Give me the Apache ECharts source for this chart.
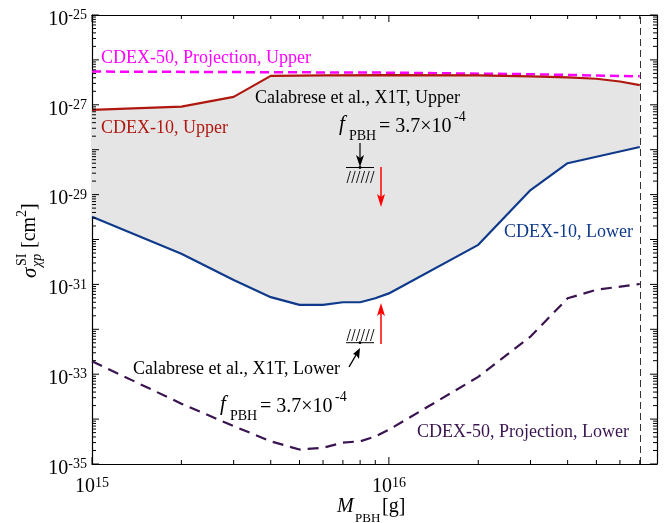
<!DOCTYPE html>
<html><head><meta charset="utf-8">
<script src="https://cdn.jsdelivr.net/npm/echarts@6/dist/echarts.min.js"></script>
<style>html,body{margin:0;padding:0;background:#fff}#c{width:667px;height:523px}</style>
</head><body><div id="c"></div>
<script>
// ---- data ----
const massUpper = [1e15, 2e15, 3e15, 4e15, 6e15, 1e16, 2e16, 3e16, 4e16, 5e16, 6e16, 7e16];
const cdex10Upper = [7.7e-28, 9.1e-28, 1.5e-27, 4.4e-27, 4.5e-27, 4.6e-27, 4.5e-27, 4.3e-27, 4.1e-27, 3.8e-27, 3.3e-27, 2.75e-27];

const massLower = [1e15, 2e15, 3e15, 4e15, 5e15, 6e15, 7e15, 8e15, 9e15, 1e16, 2e16, 3e16, 4e16, 7e16];
const cdex10Lower = [3.2e-30, 4.8e-31, 1.26e-31, 5.2e-32, 3.5e-32, 3.5e-32, 4e-32, 4e-32, 4.9e-32, 6.3e-32, 7.6e-31, 1.26e-29, 5e-29, 1.15e-28];

const massProjUpper = [1e15, 1e16, 3e16, 7e16];
const cdex50Upper = [5.5e-27, 5.2e-27, 4.8e-27, 4.3e-27];

const massProjLower = [1e15, 2e15, 3e15, 4e15, 5e15, 6e15, 7e15, 8e15, 9e15, 1e16, 2e16, 3e16, 4e16, 5e16, 7e16];
const cdex50Lower = [1.95e-33, 2.2e-34, 7e-35, 3.2e-35, 2.1e-35, 2.3e-35, 3e-35, 3.2e-35, 4.1e-35, 5.8e-35, 8.7e-34, 6.9e-33, 4.9e-32, 7.6e-32, 1.02e-31];

const massLimit = 7e16;           // vertical dashed line
const xRange = [1e15, 8e16];
const yExpRange = [-35, -25];     // y axis drawn on log10(sigma)
const xMajorTicks = [1e15, 1e16];

// ---- helpers ----
const FONT = 'Liberation Serif';
const lg = Math.log10;
const zipLog = (xs, ys) => xs.map((x, i) => [x, lg(ys[i])]);
const xTickData = [];
xMajorTicks.forEach(m => {
  xTickData.push([m, yExpRange[0], 1]);
  for (let k = 2; k <= 9; k++) { const v = k * m; if (v < xRange[1] * 0.999) xTickData.push([v, yExpRange[0], 0]); }
});
const yTickData = [];
for (let e = yExpRange[0]; e <= yExpRange[1]; e++) {
  yTickData.push([xRange[0], e, 1]);
  if (e < yExpRange[1]) for (let k = 2; k <= 9; k++) yTickData.push([xRange[0], e + lg(k), 0]);
}

const powRich = {
  b: { fontFamily: FONT, fontSize: 20, color: '#000', lineHeight: 22 },
  s: { fontFamily: FONT, fontSize: 14, color: '#000', lineHeight: 12, verticalAlign: 'top' }
};
function xLabel(v) {
  const e = lg(v), r = Math.round(e);
  if (!isFinite(e) || Math.abs(e - r) > 1e-6) return '';
  return '{b|10}{s|' + r + '}';
}
function yLabel(v) {
  const r = Math.round(v);
  if (Math.abs(v - r) > 1e-6 || r % 2 === 0) return '';
  return '{b|10}{s|' + r + '}';
}

const chart = echarts.init(document.getElementById('c'), null, { renderer: 'canvas' });
const axisLineStyle = { show: true, lineStyle: { color: '#000', width: 1.2 } };

// graphic annotations
const g = [];
function txt(x, y, text, opts) {
  g.push({ type: 'text', x, y, silent: true, z: 100, style: Object.assign({
    text, fill: '#000', fontFamily: FONT, fontSize: 18, align: 'left', verticalAlign: 'middle' }, opts || {}) });
}
function ln(x1, y1, x2, y2, color, w) {
  g.push({ type: 'line', silent: true, z: 100, shape: { x1, y1, x2, y2 }, style: { stroke: color, lineWidth: w || 1 } });
}
function poly(pts, color) {
  g.push({ type: 'polygon', silent: true, z: 100, shape: { points: pts }, style: { fill: color } });
}
txt(101, 58, 'CDEX-50, Projection, Upper', { fill: '#ff00ff' });
txt(101, 128, 'CDEX-10, Upper', { fill: '#b0170f' });
txt(255, 98, 'Calabrese et al., X1T, Upper');
txt(504, 232, 'CDEX-10, Lower', { fill: '#0f3a8c' });
txt(417, 432, 'CDEX-50, Projection, Lower', { fill: '#3a1450' });
txt(133, 369, 'Calabrese et al., X1T, Lower');
function fpbh(dx, dy) {
  txt(339 + dx, 124 + dy, 'f', { fontStyle: 'italic', fontSize: 21 });
  txt(349 + dx, 136 + dy, 'PBH', { fontSize: 14 });
  txt(379 + dx, 127 + dy, '= 3.7×10', { fontSize: 20 });
  txt(454 + dx, 117 + dy, '-4', { fontSize: 14 });
}
fpbh(0, 0);
fpbh(-119, 280);
// upper symbol
ln(360, 143, 360, 160, '#000', 1.2);
poly([[360, 167], [356, 155], [360, 158], [364, 155]], '#000');
ln(346, 167.5, 374, 167.5, '#000', 1);
g.push({ type: 'circle', silent: true, z: 100, shape: { cx: 360, cy: 167.5, r: 1.4 }, style: { fill: '#000' } });
for (let i = 0; i < 6; i++) { const x0 = 347 + i * 4.7; ln(x0 + 3.5, 171, x0, 183, '#000', 0.9); }
ln(381, 167, 381, 197, '#ff0000', 1.5);
poly([[381, 207], [377, 194], [381, 197], [385, 194]], '#ff0000');
// lower symbol
ln(346, 342.7, 374, 342.7, '#000', 1);
g.push({ type: 'circle', silent: true, z: 100, shape: { cx: 360, cy: 342.7, r: 1.4 }, style: { fill: '#000' } });
for (let i = 0; i < 6; i++) { const x0 = 347 + i * 4.7; ln(x0 + 3.5, 329, x0, 341, '#000', 0.9); }
ln(349, 367, 356, 355, '#000', 1.4);
poly([[360, 348], [353, 354], [356.5, 355.5], [359, 359]], '#000');
ln(381, 344, 381, 313, '#ff0000', 1.5);
poly([[381, 303], [377, 316], [381, 313], [385, 316]], '#ff0000');
// axis titles
g.push({ type: 'group', x: 30, y: 278, rotation: Math.PI / 2, silent: true, children: [
  { type: 'text', x: 0, y: 0, style: { text: 'σ', fontFamily: FONT, fontSize: 21, fontStyle: 'italic', fill: '#000', verticalAlign: 'middle' } },
  { type: 'text', x: 12, y: -8, style: { text: 'SI', fontFamily: FONT, fontSize: 14, fill: '#000', verticalAlign: 'middle' } },
  { type: 'text', x: 11, y: 7, style: { text: 'χp', fontFamily: FONT, fontSize: 14, fontStyle: 'italic', fill: '#000', verticalAlign: 'middle' } },
  { type: 'text', x: 30, y: 0, style: { text: '[cm', fontFamily: FONT, fontSize: 20, fill: '#000', verticalAlign: 'middle' } },
  { type: 'text', x: 61, y: -8, style: { text: '2', fontFamily: FONT, fontSize: 14, fill: '#000', verticalAlign: 'middle' } },
  { type: 'text', x: 68, y: 0, style: { text: ']', fontFamily: FONT, fontSize: 20, fill: '#000', verticalAlign: 'middle' } }
]});
txt(337, 507, 'M', { fontStyle: 'italic', fontSize: 20 });
txt(355, 519, 'PBH', { fontSize: 13 });
txt(382, 507, '[g]', { fontSize: 20 });

const option = {
  animation: false,
  backgroundColor: '#fff',
  grid: { left: 92, top: 15, right: 10, bottom: 59, containLabel: false, outerBoundsMode: 'none' },
  xAxis: [
    { type: 'log', logBase: 10, min: xRange[0], max: xRange[1], position: 'bottom',
      axisLine: axisLineStyle, axisTick: { show: false }, splitLine: { show: false },
      axisLabel: { margin: 12, hideOverlap: false, formatter: xLabel, rich: powRich } },
    { type: 'log', logBase: 10, min: xRange[0], max: xRange[1], position: 'top',
      axisLine: axisLineStyle, axisTick: { show: false }, splitLine: { show: false }, axisLabel: { show: false } }
  ],
  yAxis: [
    { type: 'value', min: yExpRange[0], max: yExpRange[1], interval: 1, position: 'left',
      axisLine: axisLineStyle, axisTick: { show: false }, splitLine: { show: false },
      axisLabel: { margin: 5, padding: [9, 0, 0, 0], hideOverlap: false, formatter: yLabel, rich: powRich } },
    { type: 'value', min: yExpRange[0], max: yExpRange[1], interval: 1, position: 'right',
      axisLine: axisLineStyle, axisTick: { show: false }, splitLine: { show: false }, axisLabel: { show: false } }
  ],
  series: [
    { type: 'custom', name: 'band', silent: true, z: 1, data: [[xRange[0], yExpRange[0]]],
      renderItem: (params, api) => {
        const pts = massUpper.map((m, i) => api.coord([m, lg(cdex10Upper[i])]));
        for (let i = massLower.length - 1; i >= 0; i--) pts.push(api.coord([massLower[i], lg(cdex10Lower[i])]));
        return { type: 'polygon', shape: { points: pts }, style: { fill: '#e5e5e5' } };
      } },
    { type: 'line', name: 'CDEX-50 Upper', data: zipLog(massProjUpper, cdex50Upper), showSymbol: false, z: 3,
      lineStyle: { color: '#ff00ff', width: 2.5, type: [9, 5] } },
    { type: 'line', name: 'CDEX-10 Upper', data: zipLog(massUpper, cdex10Upper), showSymbol: false, z: 4,
      lineStyle: { color: '#b0170f', width: 2.2 } },
    { type: 'line', name: 'CDEX-10 Lower', data: zipLog(massLower, cdex10Lower), showSymbol: false, z: 4,
      lineStyle: { color: '#0f3a8c', width: 2.2 } },
    { type: 'line', name: 'CDEX-50 Lower', data: zipLog(massProjLower, cdex50Lower), showSymbol: false, z: 4,
      lineStyle: { color: '#3a1450', width: 2.2, type: [11, 7] },
      markLine: { silent: true, symbol: 'none', label: { show: false },
        lineStyle: { color: '#333', width: 1, type: [7, 4] }, data: [{ xAxis: massLimit }] } },
    { type: 'custom', name: 'xticks', silent: true, z: 6, data: xTickData,
      renderItem: (params, api) => {
        const len = api.value(2) ? 7 : 4;
        const b = api.coord([api.value(0), yExpRange[0]]);
        const t = api.coord([api.value(0), yExpRange[1]]);
        return { type: 'group', children: [
          { type: 'line', shape: { x1: b[0], y1: b[1], x2: b[0], y2: b[1] - len }, style: { stroke: '#000', lineWidth: 1 } },
          { type: 'line', shape: { x1: t[0], y1: t[1], x2: t[0], y2: t[1] + len }, style: { stroke: '#000', lineWidth: 1 } }
        ]};
      } },
    { type: 'custom', name: 'yticks', silent: true, z: 6, data: yTickData,
      renderItem: (params, api) => {
        const len = api.value(2) ? 7 : 4;
        const l = api.coord([xRange[0], api.value(1)]);
        const r = api.coord([xRange[1], api.value(1)]);
        return { type: 'group', children: [
          { type: 'line', shape: { x1: l[0], y1: l[1], x2: l[0] + len, y2: l[1] }, style: { stroke: '#000', lineWidth: 1 } },
          { type: 'line', shape: { x1: r[0], y1: r[1], x2: r[0] - len, y2: r[1] }, style: { stroke: '#000', lineWidth: 1 } }
        ]};
      } }
  ],
  graphic: g
};
chart.setOption(option);
</script>
</body></html>
